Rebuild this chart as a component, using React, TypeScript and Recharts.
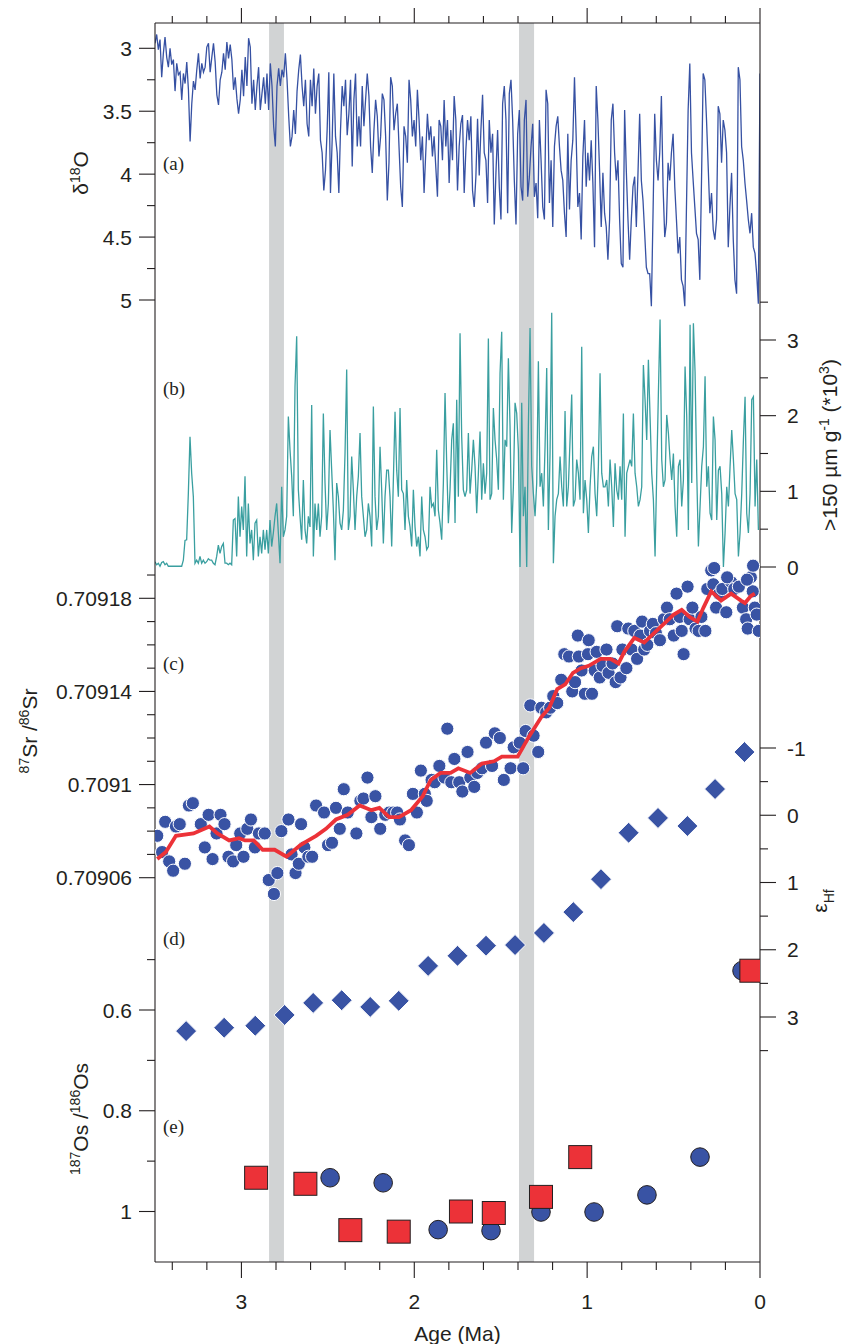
import React from 'react';
import { ComposedChart, Line, Scatter, XAxis, YAxis, ReferenceArea } from 'recharts';

// ---------- layout constants ----------
const CHART_W = 843;
const CHART_H = 1344;
const PLOT_LEFT = 155;
const PLOT_RIGHT = 760;
const PLOT_TOP = 23;
const PLOT_BOTTOM = 1262;

const INK = '#231f20';
const BLUE_LINE = '#3651a3';
const BLUE_DOT = '#3953a4';
const TEAL = '#3a9fa0';
const RED = '#ec3238';
const BAND = '#d1d3d4';
const SANS = '"Liberation Sans", Arial, Helvetica, sans-serif';
const SERIF = '"Liberation Serif", "Times New Roman", serif';

// ---------- data ----------
// (a) benthic d18O, evenly sampled from 3.5 Ma to 0 Ma
const d18oStartAge = 3.5;
const d18oStep = 3.5 / 362;
const d18oValues = [
  2.96,2.89,3.01,2.93,3.23,3.04,2.91,3.07,3.15,3.00,
  3.13,3.09,3.34,3.12,3.21,3.19,3.41,3.20,3.28,3.11,
  3.33,3.74,3.44,3.26,3.33,3.17,3.04,3.24,3.12,3.19,
  3.15,2.99,2.96,3.19,3.07,2.96,3.11,3.37,3.45,3.25,
  3.19,3.04,3.17,2.95,3.08,2.97,3.09,3.33,3.23,3.40,
  3.52,3.41,3.17,3.38,3.07,3.30,2.92,2.99,3.44,3.25,
  3.49,3.30,3.15,3.49,3.36,3.23,3.44,3.20,3.49,3.12,
  3.30,3.62,3.78,3.30,3.16,3.30,3.17,3.23,3.04,3.25,
  3.54,3.78,3.70,3.49,3.68,3.34,3.17,3.05,3.30,3.46,
  3.25,3.60,3.70,3.25,3.46,3.16,3.52,3.30,3.20,3.73,
  3.83,4.13,3.97,3.65,3.19,4.15,3.73,3.20,3.70,3.83,
  4.15,3.65,3.30,3.46,3.25,3.69,3.52,3.25,3.94,3.41,
  3.20,3.78,3.54,3.78,3.30,3.62,3.41,3.20,3.38,3.78,
  3.99,3.65,3.41,3.54,3.86,3.70,3.36,3.41,3.70,4.21,
  3.91,3.23,3.30,3.65,3.52,3.44,3.78,4.10,4.26,3.62,
  3.70,3.91,3.25,3.41,3.70,3.57,3.78,3.33,3.57,3.89,
  3.70,4.15,3.83,3.52,3.73,3.62,3.86,3.70,3.94,4.18,
  3.57,3.62,3.89,3.41,3.78,3.57,4.07,3.65,3.89,3.38,
  3.57,4.13,3.78,3.60,
  3.53,4.15,3.81,3.57,3.73,3.54,4.13,4.26,4.02,3.56,
  4.01,3.65,3.37,3.83,3.89,4.23,3.57,3.83,3.68,4.40,
  3.99,3.65,4.10,4.36,3.44,3.30,3.57,4.31,3.36,3.25,
  3.57,4.05,4.40,3.68,3.49,4.10,4.21,3.57,3.41,4.18,
  4.02,3.78,3.60,4.18,4.07,4.35,3.57,3.89,4.26,4.36,
  3.33,3.44,4.23,3.89,4.42,3.78,3.62,3.54,3.78,3.97,
  4.05,4.31,4.50,3.68,4.28,3.89,3.73,3.23,3.70,4.26,
  4.15,4.52,3.86,3.57,4.10,3.83,4.05,3.73,4.07,4.58,
  3.30,3.57,3.97,4.42,3.99,4.31,4.42,4.68,4.36,3.57,
  3.44,3.83,4.05,3.89,4.36,4.71,4.74,3.49,3.97,4.36,
  4.68,4.36,4.10,4.02,4.42,3.99,3.52,4.05,4.21,4.47,
  4.74,4.79,4.79,5.05,4.31,3.52,3.89,4.05,3.83,3.38,
  4.10,4.50,4.39,3.91,4.05,3.83,3.68,4.10,4.36,4.63,
  4.50,4.84,4.89,5.05,4.26,3.49,3.12,3.83,4.05,4.26,
  4.47,4.52,4.84,4.05,3.20,3.25,3.57,3.94,4.31,4.15,
  4.44,4.52,4.36,3.46,3.52,3.91,3.57,3.65,3.83,4.58,
  4.26,3.99,4.52,4.84,4.95,3.15,3.25,3.78,3.89,4.07,
  4.21,4.36,4.47,4.31,4.58,4.63,4.79,5.03,3.20,
];

// (b) >150 um fraction (*10^3 per g), evenly sampled
const coarseStartAge = 3.5;
const coarseStep = 0.009643;
const coarseValues = [
  0.07,0.03,0.05,0.01,0.06,0.07,0.03,0.05,0.01,0.01,
  0.01,0.01,0.01,0.01,0.01,0.01,0.01,0.09,0.35,0.36,
  0.97,1.72,1.24,0.93,0.05,0.09,0.05,0.14,0.05,0.09,
  0.05,0.07,0.11,0.09,0.09,0.05,0.03,0.14,0.29,0.18,
  0.27,0.31,0.05,0.05,0.03,0.05,0.03,0.62,0.64,0.14,
  0.93,0.40,0.80,0.49,1.20,0.14,0.84,0.31,0.49,0.09,
  0.58,0.62,0.14,0.40,0.18,0.49,0.23,0.49,0.18,0.62,
  0.27,0.45,0.67,0.84,0.45,0.05,1.06,0.40,0.49,0.67,
  1.99,1.55,1.20,0.67,2.39,3.05,1.02,0.67,0.36,1.15,
  0.49,0.31,0.67,0.53,2.14,0.14,0.84,0.49,0.84,0.40,
  0.67,2.03,1.11,0.49,0.84,1.81,1.28,0.75,0.09,1.11,
  0.93,0.58,0.49,0.75,1.50,2.61,0.49,0.67,1.46,1.02,
  0.49,0.93,1.20,1.77,0.93,0.67,0.40,0.49,0.84,0.67,
  0.27,2.12,0.93,0.49,0.67,1.59,1.02,0.31,0.93,1.28,
  1.28,0.93,0.27,1.15,2.05,1.28,0.93,2.10,1.02,0.97,
  0.49,1.15,0.67,0.53,0.27,1.02,0.53,0.27,0.40,0.14,
  0.93,0.49,0.40,0.23,0.27,1.06,0.80,0.84,0.67,1.55,
  0.75,0.58,0.36,1.11,2.30,1.37,0.58,1.02,1.68,1.90,
  0.58,2.21,0.93,3.09,1.72,1.02,0.93,1.02,1.77,0.97,
  1.28,1.68,1.33,0.71,1.24,1.79,0.89,1.37,0.97,1.24,
  3.02,0.89,0.97,2.10,1.68,1.42,1.02,2.56,3.11,0.89,
  1.68,1.59,2.76,1.86,0.45,1.06,2.17,2.03,1.55,0.00,
  2.17,0.67,1.06,0.00,1.86,3.16,1.33,0.97,0.67,1.11,
  2.72,1.06,1.24,0.80,1.59,2.63,0.49,1.50,3.36,0.05,
  0.67,0.89,0.97,1.46,1.06,0.80,2.06,0.80,1.06,1.68,
  2.28,0.80,0.89,1.42,1.24,0.89,2.91,0.71,1.15,0.89,
  0.45,1.06,1.46,1.59,0.97,0.67,1.33,2.56,1.24,1.06,
  1.06,1.15,0.80,1.42,1.06,0.53,1.37,1.02,0.89,1.33,
  0.89,2.03,0.40,1.24,1.33,1.42,1.33,2.03,1.24,1.06,
  0.80,0.89,1.06,2.67,2.21,1.68,2.74,1.99,1.24,0.89,
  0.14,1.24,2.30,3.27,1.42,1.06,1.15,2.01,1.77,1.42,
  1.15,1.50,0.80,0.40,1.33,1.42,0.80,1.15,2.65,1.99,
  0.49,3.20,1.11,3.22,2.58,1.24,0.27,0.80,1.33,1.59,
  2.52,1.06,1.33,0.71,0.62,1.99,1.68,0.62,1.28,1.33,
  0.97,0.00,0.45,1.06,0.80,1.33,1.81,1.42,0.97,0.89,
  0.14,0.45,0.97,1.68,2.25,0.71,0.45,0.97,2.21,2.25,
  0.80,1.42,0.49,
];

// (c) 87Sr/86Sr measurements
const srAges = [
  3.487,3.459,3.441,3.418,3.395,3.379,3.357,3.327,3.304,3.281,
  3.235,3.212,3.190,3.167,3.144,3.121,3.098,3.075,3.048,3.030,
  3.007,2.988,2.966,2.945,2.922,2.899,2.865,2.842,2.812,2.792,
  2.769,2.728,2.710,2.687,2.668,2.655,2.636,2.613,2.591,2.568,
  2.522,2.499,2.476,2.453,2.431,2.408,2.385,2.335,2.312,2.294,
  2.271,2.248,2.225,2.197,2.168,2.145,2.122,2.099,2.083,2.053,
  2.031,2.008,1.985,1.962,1.939,1.928,1.900,1.882,1.855,1.825,
  1.809,1.786,1.768,1.740,1.722,1.692,1.676,1.653,1.635,1.608,
  1.585,1.550,1.534,1.505,1.482,1.443,1.425,1.390,1.370,1.356,
  1.329,1.310,1.283,1.265,1.237,1.214,1.196,1.173,1.150,1.132,
  1.105,1.086,1.070,1.054,1.048,1.032,1.013,0.995,0.991,0.972,
  0.956,0.945,0.927,0.911,0.888,0.876,0.853,0.835,0.826,0.807,
  0.796,0.773,0.762,0.743,0.727,0.711,0.693,0.682,0.670,0.652,
  0.636,0.620,0.602,0.579,0.556,0.538,0.522,0.499,0.483,0.465,
  0.453,0.442,0.419,0.407,0.391,0.373,0.355,0.339,0.316,0.305,
  0.282,0.270,0.254,0.236,0.218,0.195,0.167,0.149,0.122,0.099,
  0.080,0.071,0.053,0.042,0.030,0.019,0.007,0.265,0.190,0.040,
  0.075,
];
const srValues = [
  0.709078,0.709071,0.709084,0.709067,0.709063,0.709082,0.709083,0.709066,0.709091,0.709092,
  0.709083,0.709073,0.709087,0.709068,0.709079,0.709087,0.709083,0.709069,0.709067,0.709074,
  0.709079,0.709069,0.709081,0.709085,0.709073,0.709079,0.709079,0.709059,0.709053,0.709062,
  0.70908,0.709085,0.70907,0.709062,0.709066,0.709083,0.709073,0.709069,0.709069,0.709091,
  0.709088,0.709074,0.709075,0.70909,0.709081,0.709098,0.709088,0.709079,0.709093,0.709094,
  0.709103,0.709086,0.709095,0.709081,0.709087,0.709088,0.709088,0.709088,0.709085,0.709076,
  0.709074,0.709096,0.709088,0.709106,0.709096,0.709093,0.709102,0.709101,0.709108,0.709103,
  0.709124,0.709101,0.709111,0.709101,0.709097,0.709114,0.709103,0.709099,0.709105,0.709107,
  0.709118,0.709108,0.709122,0.70912,0.709102,0.709107,0.709116,0.709118,0.709107,0.709123,
  0.709134,0.709121,0.709114,0.709133,0.709131,0.709133,0.709138,0.709135,0.709145,0.709156,
  0.709155,0.70914,0.709144,0.709164,0.709155,0.709149,0.709139,0.709156,0.709162,0.709139,
  0.709149,0.709157,0.709146,0.709151,0.709158,0.709148,0.709152,0.709144,0.709168,0.709146,
  0.709158,0.70915,0.709167,0.709158,0.709166,0.709154,0.709164,0.70917,0.709158,0.70916,
  0.709166,0.709169,0.709165,0.709162,0.709171,0.709176,0.709171,0.709164,0.709182,0.709172,
  0.709166,0.709156,0.709185,0.709171,0.709176,0.709167,0.709166,0.709172,0.709166,0.709184,
  0.709192,0.709186,0.709176,0.709182,0.709184,0.709174,0.709187,0.709184,0.709185,0.709176,
  0.709171,0.709167,0.709189,0.709183,0.709176,0.709173,0.709166,0.709193,0.709189,0.709194,
  0.709188,
];

// (c) smoothed Sr curve
const srFitAges = [
  3.487,3.437,3.379,3.277,3.185,3.139,3.071,3.014,2.979,2.929,
  2.877,2.808,2.739,2.659,2.613,2.568,2.511,2.453,2.385,2.316,
  2.248,2.202,2.145,2.088,2.019,1.951,1.905,1.848,1.790,1.745,
  1.676,1.608,1.539,1.493,1.402,1.333,1.265,1.219,1.173,1.127,
  1.082,1.036,0.991,0.922,0.865,0.819,0.785,0.727,0.670,0.613,
  0.556,0.499,0.453,0.407,0.362,0.327,0.282,0.225,0.167,0.110,
  0.087,0.053,0.030,
];
const srFitValues = [
  0.709068,0.709071,0.709078,0.709079,0.709082,0.709079,0.709076,0.709077,0.709076,0.709076,
  0.709072,0.709072,0.709069,0.709074,0.709076,0.709078,0.709081,0.709085,0.709087,0.709091,
  0.709089,0.70909,0.709086,0.709086,0.709089,0.709095,0.709102,0.709105,0.709105,0.709107,
  0.709105,0.709109,0.70911,0.709112,0.709112,0.709121,0.709129,0.709133,0.709141,0.709143,
  0.709148,0.70915,0.709151,0.709154,0.709154,0.709152,0.709157,0.709163,0.709161,0.709165,
  0.709169,0.709173,0.709175,0.709172,0.70917,0.709176,0.709183,0.709179,0.709182,0.709179,
  0.709178,0.709181,0.709182,
];

// (d) epsilon Hf
const hfAges = [3.32,3.10,2.92,2.75,2.585,2.42,2.255,2.09,1.92,1.75,1.585,1.417,1.25,1.08,0.92,0.76,0.59,0.42,0.26,0.09];
const hfValues = [3.21,3.16,3.13,2.97,2.79,2.75,2.85,2.76,2.24,2.09,1.94,1.93,1.75,1.44,0.95,0.26,0.04,0.16,-0.39,-0.94];

// (e) 187Os/186Os
const osCircleAges = [2.487,2.18,1.862,1.556,1.267,0.96,0.654,0.347,0.104];
const osCircleValues = [0.933,0.943,1.036,1.038,1.001,1.001,0.967,0.892,0.522];
const osSquareAges = [2.915,2.63,2.37,2.09,1.73,1.54,1.267,1.04,0.05];
const osSquareValues = [0.933,0.945,1.037,1.04,1.0,1.003,0.971,0.892,0.522];

// shaded intervals (Ma)
const bandStarts = [2.84, 1.394];
const bandEnds = [2.754, 1.307];

// tick values
const xTicks = [0,0.2,0.4,0.6,0.8,1,1.2,1.4,1.6,1.8,2,2.2,2.4,2.6,2.8,3,3.2,3.4];
const d18oTicks = [3,3.25,3.5,3.75,4,4.25,4.5,4.75,5];
const coarseTicks = [0,0.5,1,1.5,2,2.5,3,3.5];
const srTicks = [0.70906,0.70907,0.70908,0.70909,0.7091,0.70911,0.70912,0.70913,0.70914,0.70915,0.70916,0.70917,0.70918,0.70919];
const srMajor = [0.70906,0.7091,0.70914,0.70918];
const hfTicks = [-1,-0.5,0,0.5,1,1.5,2,2.5,3,3.5];
const osTicks = [0.5,0.6,0.7,0.8,0.9,1];
const osMajor = [0.6,0.8,1];

// ---------- build series ----------
const d18oData = d18oValues.map((v, i) => ({ age: d18oStartAge - i * d18oStep, v }));
const coarseData = coarseValues.map((v, i) => ({ age: coarseStartAge - i * coarseStep, v }));
const srData = srAges.map((age, i) => ({ age, v: srValues[i] }));
const srFitData = srFitAges.map((age, i) => ({ age, v: srFitValues[i] }));
const hfData = hfAges.map((age, i) => ({ age, v: hfValues[i] }));
const osCircleData = osCircleAges.map((age, i) => ({ age, v: osCircleValues[i] }));
const osSquareData = osSquareAges.map((age, i) => ({ age, v: osSquareValues[i] }));

// domain of a y axis so that two value anchors land at the given pixel rows
function fitDomain(v1: number, y1: number, v2: number, y2: number): [number, number] {
  const k = (v2 - v1) / (y2 - y1);
  const atTop = v1 + (PLOT_TOP - y1) * k;
  const atBottom = v1 + (PLOT_BOTTOM - y1) * k;
  return [Math.min(atTop, atBottom), Math.max(atTop, atBottom)];
}

const domA = fitDomain(3, 48.3, 5, 300);
const domB = fitDomain(0, 567, 3, 340);
const domC = fitDomain(0.70906, 877.7, 0.70918, 598.3);
const domD = fitDomain(-1, 748, 3, 1017);
const domE = fitDomain(0.6, 1010, 1.0, 1211.5);

const near = (a: number, b: number) => Math.abs(a - b) < 1e-7;

// every axis of a side sits on the same frame line
function makeYTick(side: 'left' | 'right', isMajor: (v: number) => boolean) {
  return (props: any) => {
    const { y, payload } = props;
    const x = side === 'left' ? PLOT_LEFT : PLOT_RIGHT;
    const v = payload.value as number;
    const major = isMajor(v);
    const len = major ? 16 : 8;
    const dir = side === 'left' ? -1 : 1;
    return (
      <g>
        <line x1={x} x2={x + dir * len} y1={y} y2={y} stroke={INK} strokeWidth={1.1} />
        {major && (
          <text
            x={side === 'left' ? x - 23 : x + 27}
            y={y}
            dy="0.36em"
            textAnchor={side === 'left' ? 'end' : 'start'}
            fontFamily={SANS}
            fontSize={21}
            fill={INK}
          >
            {String(v)}
          </text>
        )}
      </g>
    );
  };
}

function makeXTick(side: 'top' | 'bottom') {
  return (props: any) => {
    const { x, payload } = props;
    const y = side === 'top' ? PLOT_TOP : PLOT_BOTTOM;
    const v = payload.value as number;
    const major = Math.abs(v - Math.round(v)) < 1e-6;
    const len = side === 'top' ? (major ? 15 : 7) : (major ? 16 : 8);
    const dir = side === 'top' ? -1 : 1;
    return (
      <g>
        <line x1={x} x2={x} y1={y} y2={y + dir * len} stroke={INK} strokeWidth={1.1} />
        {side === 'bottom' && major && (
          <text x={x} y={y + 47} textAnchor="middle" fontFamily={SANS} fontSize={21} fill={INK}>
            {String(Math.round(v))}
          </text>
        )}
      </g>
    );
  };
}

const srDot = (p: any) => (
  <circle cx={p.cx} cy={p.cy} r={6.6} fill={BLUE_DOT} stroke="#ffffff" strokeWidth={1} />
);
const hfDiamond = (p: any) => {
  const s = 10.5;
  return (
    <polygon
      points={`${p.cx},${p.cy - s} ${p.cx + s},${p.cy} ${p.cx},${p.cy + s} ${p.cx - s},${p.cy}`}
      fill={BLUE_DOT}
      stroke="#ffffff"
      strokeWidth={1}
    />
  );
};
const osCircle = (p: any) => (
  <circle cx={p.cx} cy={p.cy} r={9.3} fill={BLUE_DOT} stroke={INK} strokeWidth={1} />
);
const osSquare = (p: any) => (
  <rect x={p.cx - 11.5} y={p.cy - 11.5} width={23} height={23} fill={RED} stroke={INK} strokeWidth={1} />
);

const yCommon = {
  type: 'number' as const,
  width: 1,
  tickSize: 0,
  tickMargin: 0,
  tickLine: false,
  interval: 0 as const,
  allowDataOverflow: true,
};

// 3 left axes and 2 right axes, 1px each; 1px tall x axes
const MARGIN = {
  top: PLOT_TOP - 1,
  right: CHART_W - PLOT_RIGHT - 2,
  bottom: CHART_H - PLOT_BOTTOM - 1,
  left: PLOT_LEFT - 3,
};

export default function App() {
  return (
    <div style={{ position: 'absolute', left: 0, top: 0, width: CHART_W, height: CHART_H, background: '#ffffff' }}>
      <ComposedChart width={CHART_W} height={CHART_H} margin={MARGIN}>
        <XAxis
          xAxisId="b"
          dataKey="age"
          type="number"
          domain={[0, 3.5]}
          reversed
          allowDataOverflow
          ticks={xTicks}
          interval={0}
          height={1}
          tickSize={0}
          tickMargin={0}
          tickLine={false}
          tick={makeXTick('bottom')}
          axisLine={{ stroke: INK, strokeWidth: 1.1 }}
        />
        <XAxis
          xAxisId="t"
          orientation="top"
          dataKey="age"
          type="number"
          domain={[0, 3.5]}
          reversed
          allowDataOverflow
          ticks={xTicks}
          interval={0}
          height={1}
          tickSize={0}
          tickMargin={0}
          tickLine={false}
          tick={makeXTick('top')}
          axisLine={{ stroke: INK, strokeWidth: 1.1 }}
        />
        <YAxis
          yAxisId="a"
          orientation="left"
          domain={domA}
          reversed
          ticks={d18oTicks}
          tick={makeYTick('left', (v) => near(v * 2, Math.round(v * 2)))}
          axisLine={{ stroke: INK, strokeWidth: 1.1 }}
          {...yCommon}
        />
        <YAxis
          yAxisId="b"
          orientation="right"
          domain={domB}
          ticks={coarseTicks}
          tick={makeYTick('right', (v) => near(v, Math.round(v)))}
          axisLine={{ stroke: INK, strokeWidth: 1.1 }}
          {...yCommon}
        />
        <YAxis
          yAxisId="c"
          orientation="left"
          domain={domC}
          ticks={srTicks}
          tick={makeYTick('left', (v) => srMajor.some((m) => near(m, v)))}
          axisLine={false}
          {...yCommon}
        />
        <YAxis
          yAxisId="d"
          orientation="right"
          domain={domD}
          reversed
          ticks={hfTicks}
          tick={makeYTick('right', (v) => near(v, Math.round(v)))}
          axisLine={false}
          {...yCommon}
        />
        <YAxis
          yAxisId="e"
          orientation="left"
          domain={domE}
          reversed
          ticks={osTicks}
          tick={makeYTick('left', (v) => osMajor.some((m) => near(m, v)))}
          axisLine={false}
          {...yCommon}
        />

        {bandStarts.map((s, i) => (
          <ReferenceArea
            key={'band' + i}
            xAxisId="b"
            yAxisId="a"
            x1={s}
            x2={bandEnds[i]}
            fill={BAND}
            fillOpacity={1}
            stroke="none"
            ifOverflow="visible"
            zIndex={50}
          />
        ))}

        <Line
          xAxisId="b"
          yAxisId="a"
          data={d18oData}
          dataKey="v"
          type="linear"
          stroke={BLUE_LINE}
          strokeWidth={1.3}
          dot={false}
          activeDot={false}
          isAnimationActive={false}
        />
        <Line
          xAxisId="b"
          yAxisId="b"
          data={coarseData}
          dataKey="v"
          type="linear"
          stroke={TEAL}
          strokeWidth={1.3}
          dot={false}
          activeDot={false}
          isAnimationActive={false}
        />
        <Scatter
          xAxisId="b"
          yAxisId="c"
          data={srData}
          dataKey="v"
          shape={srDot}
          isAnimationActive={false}
        />
        <Line
          xAxisId="b"
          yAxisId="c"
          data={srFitData}
          dataKey="v"
          type="linear"
          stroke={RED}
          strokeWidth={3.8}
          dot={false}
          activeDot={false}
          isAnimationActive={false}
          zIndex={700}
        />
        <Scatter
          xAxisId="b"
          yAxisId="d"
          data={hfData}
          dataKey="v"
          shape={hfDiamond}
          isAnimationActive={false}
        />
        <Scatter
          xAxisId="b"
          yAxisId="e"
          data={osCircleData}
          dataKey="v"
          shape={osCircle}
          isAnimationActive={false}
        />
        <Scatter
          xAxisId="b"
          yAxisId="e"
          data={osSquareData}
          dataKey="v"
          shape={osSquare}
          isAnimationActive={false}
        />
      </ComposedChart>

      <svg
        width={CHART_W}
        height={CHART_H}
        style={{ position: 'absolute', left: 0, top: 0, pointerEvents: 'none' }}
      >
        <g fontFamily={SANS} fontSize={21} fill={INK}>
          <text transform="translate(88,173) rotate(-90)" textAnchor="middle">
            δ<tspan dy={-8} fontSize={14}>18</tspan><tspan dy={8}>O</tspan>
          </text>
          <text transform="translate(37,731) rotate(-90)" textAnchor="middle">
            <tspan dy={-8} fontSize={14}>87</tspan><tspan dy={8}>Sr /</tspan><tspan dy={-8} fontSize={14}>86</tspan><tspan dy={8}>Sr</tspan>
          </text>
          <text transform="translate(88,1119) rotate(-90)" textAnchor="middle">
            <tspan dy={-8} fontSize={14}>187</tspan><tspan dy={8}>Os /</tspan><tspan dy={-8} fontSize={14}>186</tspan><tspan dy={8}>Os</tspan>
          </text>
          <text transform="translate(837,445) rotate(-90)" textAnchor="middle">
            {'>150 µm g'}<tspan dy={-8} fontSize={14}>-1</tspan><tspan dy={8}>{' (*10'}</tspan><tspan dy={-8} fontSize={14}>3</tspan><tspan dy={8}>)</tspan>
          </text>
          <text transform="translate(827,901) rotate(-90)" textAnchor="middle">
            ε<tspan dy={7} fontSize={14}>Hf</tspan>
          </text>
          <text x={(PLOT_LEFT + PLOT_RIGHT) / 2} y={1341} textAnchor="middle">Age (Ma)</text>
        </g>
        <g fontFamily={SERIF} fontSize={19} fill={INK}>
          <text x={163} y={170}>(a)</text>
          <text x={163} y={395}>(b)</text>
          <text x={163} y={670}>(c)</text>
          <text x={163} y={945}>(d)</text>
          <text x={163} y={1133}>(e)</text>
        </g>
      </svg>
    </div>
  );
}
